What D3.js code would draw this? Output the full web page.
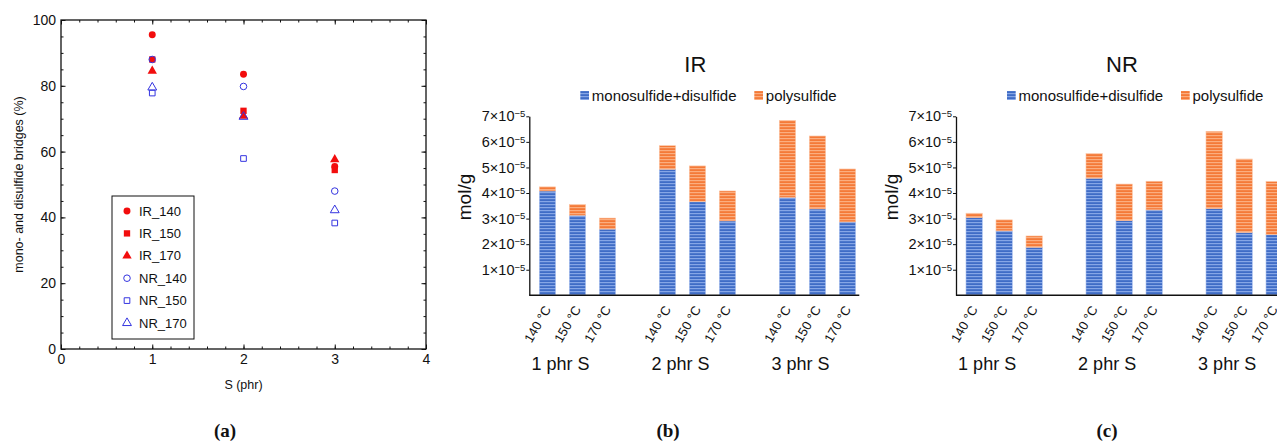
<!DOCTYPE html>
<html>
<head>
<meta charset="utf-8">
<script src="https://cdn.jsdelivr.net/npm/d3@7"></script>
<style>
  body { margin: 0; background: #fff; }
  svg { display: block; font-family: "Liberation Sans", Arial, sans-serif; }
</style>
</head>
<body>
<div id="chart"></div>
<script>
// panel (a): share of mono- and disulfide bridges (%)
const sulfur = [1, 2, 3];
const ir140 = [95.5, 83.5, 55.5];
const ir150 = [88.0, 72.4, 54.4];
const ir170 = [84.5, 70.8, 57.6];
const nr140 = [88.0, 79.8, 48.0];
const nr150 = [77.8, 57.9, 38.3];
const nr170 = [79.5, 70.6, 42.2];

// panels (b) and (c): crosslink densities, units of 1e-5 mol/g
const temps = ['140 °C', '150 °C', '170 °C'];
const doses = ['1 phr S', '2 phr S', '3 phr S'];
const irMonoDi = [4.08, 3.13, 2.59, 4.93, 3.66, 2.91, 3.83, 3.38, 2.87];
const irPoly = [0.16, 0.42, 0.43, 0.92, 1.40, 1.17, 3.01, 2.85, 2.07];
const nrMonoDi = [3.04, 2.52, 1.88, 4.58, 2.92, 3.34, 3.39, 2.46, 2.37];
const nrPoly = [0.17, 0.43, 0.44, 0.96, 1.43, 1.12, 3.02, 2.87, 2.08];
const yTicks = [1, 2, 3, 4, 5, 6, 7];
const panelLetters = ['(a)', '(b)', '(c)'];

const W = 1277, H = 441;
const RED = '#f20d0d', BLUE = '#3434e0';

const svg = d3.select('#chart').append('svg')
  .attr('width', W)
  .attr('height', H);

// stripe patterns for the bars
const defs = svg.append('defs');
function stripes(id, base, light) {
  const p = defs.append('pattern')
    .attr('id', id)
    .attr('patternUnits', 'userSpaceOnUse')
    .attr('width', 10)
    .attr('height', 3);
  p.append('rect').attr('width', 10).attr('height', 3).attr('fill', base);
  p.append('rect').attr('width', 10).attr('height', 1.2).attr('fill', light);
}
stripes('blueStripe', '#3f6cc6', '#86a6e6');
stripes('orangeStripe', '#f47a38', '#fbae80');

/**
 * panel (a)
 */
function drawScatter() {
  const x = d3.scaleLinear().domain([0, 4]).range([61, 426]);
  const y = d3.scaleLinear().domain([0, 100]).range([349, 20]);
  const g = svg.append('g').attr('class', 'panelA');

  // major + minor ticks, pointing inward on all four sides
  const sides = [
    { ax: d3.axisBottom(x), pos: `translate(0,${y(0)})`, major: [0, 1, 2, 3, 4], minor: d3.range(0, 4.01, 0.2), labels: true },
    { ax: d3.axisTop(x), pos: `translate(0,${y(100)})`, major: [0, 1, 2, 3, 4], minor: d3.range(0, 4.01, 0.2), labels: false },
    { ax: d3.axisLeft(y), pos: `translate(${x(0)},0)`, major: [0, 20, 40, 60, 80, 100], minor: d3.range(0, 101, 5), labels: true },
    { ax: d3.axisRight(y), pos: `translate(${x(4)},0)`, major: [0, 20, 40, 60, 80, 100], minor: d3.range(0, 101, 5), labels: false },
  ];
  sides.forEach((s) => {
    const minor = g.append('g').attr('transform', s.pos)
      .call(s.ax.tickValues(s.minor).tickSize(-2.5).tickSizeOuter(0).tickFormat(''));
    minor.select('.domain').remove();
    const major = g.append('g').attr('transform', s.pos)
      .call(s.ax.tickValues(s.major).tickSize(-4.5).tickSizeOuter(0).tickPadding(5)
        .tickFormat(s.labels ? d3.format('d') : ''));
    major.select('.domain').remove();
    major.selectAll('text').attr('font-size', 14).attr('fill', '#111')
      .attr('font-family', '"Liberation Sans", Arial, sans-serif');
  });
  g.selectAll('.tick line').attr('stroke', '#111').attr('stroke-width', 1);

  g.append('rect')
    .attr('x', x(0)).attr('y', y(100))
    .attr('width', x(4) - x(0)).attr('height', y(0) - y(100))
    .attr('fill', 'none').attr('stroke', '#111').attr('stroke-width', 1.3);

  g.append('text')
    .attr('transform', `translate(19,${(y(0) + y(100)) / 2}) rotate(-90)`)
    .attr('text-anchor', 'middle').attr('dy', '0.35em')
    .attr('font-size', 12.5).attr('fill', '#111')
    .text('mono- and disulfide bridges (%)');

  g.append('text')
    .attr('x', (x(0) + x(4)) / 2).attr('y', 389)
    .attr('text-anchor', 'middle').attr('font-size', 12.5).attr('fill', '#111')
    .text('S (phr)');

  const series = [
    { name: 'IR_140', values: ir140, shape: d3.symbolCircle, size: 38, filled: true },
    { name: 'IR_150', values: ir150, shape: d3.symbolSquare, size: 40, filled: true },
    { name: 'IR_170', values: ir170, shape: d3.symbolTriangle, size: 38, filled: true },
    { name: 'NR_140', values: nr140, shape: d3.symbolCircle, size: 34, filled: false },
    { name: 'NR_150', values: nr150, shape: d3.symbolSquare, size: 32, filled: false },
    { name: 'NR_170', values: nr170, shape: d3.symbolTriangle, size: 34, filled: false },
  ];

  const styleMark = (sel, s) => sel
    .attr('d', d3.symbol().type(s.shape).size(s.size))
    .attr('fill', s.filled ? RED : 'none')
    .attr('stroke', s.filled ? 'none' : BLUE)
    .attr('stroke-width', 1);

  series.forEach((s) => {
    g.selectAll(null)
      .data(s.values)
      .enter()
      .append('path')
      .attr('transform', (d, i) => `translate(${x(sulfur[i])},${y(d)})`)
      .call(styleMark, s);
  });

  // legend
  const leg = g.append('g').attr('class', 'legend');
  leg.append('rect')
    .attr('x', 112).attr('y', 196).attr('width', 82).attr('height', 143)
    .attr('fill', '#fff').attr('stroke', '#111').attr('stroke-width', 1);
  series.forEach((s, i) => {
    const ly = 211 + i * 22.4;
    leg.append('path')
      .attr('transform', `translate(127,${ly})`)
      .call(styleMark, s);
    leg.append('text')
      .attr('x', 139).attr('y', ly).attr('dy', '0.36em')
      .attr('font-size', 13).attr('fill', '#111')
      .text(s.name);
  });
}

/**
 * panels (b) and (c)
 */
function drawBars(axisX, title, monoDi, poly) {
  const g = svg.append('g');
  const rows = monoDi.map((m, i) => ({
    dose: doses[Math.floor(i / 3)],
    temp: temps[i % 3],
    mono: m,
    poly: poly[i],
  }));

  const x0 = d3.scaleBand().domain(doses).range([axisX, axisX + 360]);
  const x1 = d3.scaleBand().domain(temps).range([10, 86.3]).paddingInner(0.457);
  const y = d3.scaleLinear().domain([0, 7]).range([295.3, 116.3]);

  const stack = d3.stack().keys(['mono', 'poly'])(rows);
  const fills = { mono: 'url(#blueStripe)', poly: 'url(#orangeStripe)' };
  const edges = { mono: '#a9c0ee', poly: '#fcc4a2' };

  stack.forEach((layer) => {
    g.selectAll(null)
      .data(layer)
      .enter()
      .append('rect')
      .attr('x', (d) => x0(d.data.dose) + x1(d.data.temp))
      .attr('width', x1.bandwidth())
      .attr('y', (d) => y(d[1]))
      .attr('height', (d) => y(d[0]) - y(d[1]))
      .attr('fill', fills[layer.key])
      .attr('stroke', edges[layer.key])
      .attr('stroke-width', 0.6);
  });

  // y axis
  const yAxis = g.append('g')
    .attr('transform', `translate(${axisX},0)`)
    .call(d3.axisLeft(y).tickValues(yTicks).tickSize(3).tickSizeOuter(0).tickPadding(1));
  yAxis.select('.domain').attr('stroke', '#111').attr('stroke-width', 1.3);
  yAxis.selectAll('.tick line').attr('stroke', '#111');
  yAxis.selectAll('.tick text')
    .attr('font-size', 14.5).attr('fill', '#111')
    .attr('font-family', '"Liberation Sans", Arial, sans-serif')
    .each(function (d) {
      const t = d3.select(this);
      t.text(`${d}×10`);
      t.append('tspan').attr('dy', '-0.45em').attr('font-size', 9.5).text('−5');
    });

  // baseline
  g.append('line')
    .attr('x1', axisX).attr('x2', axisX + 330)
    .attr('y1', y(0)).attr('y2', y(0))
    .attr('stroke', '#111').attr('stroke-width', 1.5);

  // category labels
  g.selectAll(null)
    .data(rows)
    .enter()
    .append('text')
    .attr('transform', (d) => {
      const cx = x0(d.dose) + x1(d.temp) + x1.bandwidth() / 2 + 4;
      return `translate(${cx},309) rotate(-60)`;
    })
    .attr('text-anchor', 'end')
    .attr('font-size', 13).attr('fill', '#111')
    .text((d) => d.temp);

  g.selectAll(null)
    .data(doses)
    .enter()
    .append('text')
    .attr('x', (d) => x0(d) + (x1(temps[0]) + x1(temps[1]) + x1.bandwidth()) / 2 - 2)
    .attr('y', 370)
    .attr('text-anchor', 'middle')
    .attr('font-size', 18).attr('fill', '#111')
    .text((d) => d);

  g.append('text')
    .attr('transform', `translate(${axisX - 65},197) rotate(-90)`)
    .attr('text-anchor', 'middle').attr('dy', '0.35em')
    .attr('font-size', 19).attr('fill', '#111')
    .text('mol/g');

  g.append('text')
    .attr('x', axisX + 166).attr('y', 64)
    .attr('text-anchor', 'middle').attr('dy', '0.35em')
    .attr('font-size', 22).attr('fill', '#111')
    .text(title);

  // legend
  const legend = [
    { label: 'monosulfide+disulfide', fill: fills.mono, dx: 51 },
    { label: 'polysulfide', fill: fills.poly, dx: 225 },
  ];
  legend.forEach((l) => {
    g.append('rect')
      .attr('x', axisX + l.dx).attr('y', 91)
      .attr('width', 8.7).attr('height', 9)
      .attr('fill', l.fill);
    g.append('text')
      .attr('x', axisX + l.dx + 11.5).attr('y', 100.5)
      .attr('font-size', 15).attr('fill', '#111')
      .text(l.label);
  });
}

drawScatter();
drawBars(529.3, 'IR', irMonoDi, irPoly);
drawBars(956, 'NR', nrMonoDi, nrPoly);

// panel letters
svg.selectAll('.letter')
  .data(panelLetters)
  .enter()
  .append('text')
  .attr('class', 'letter')
  .attr('x', (d, i) => [225, 668, 1107][i])
  .attr('y', 437)
  .attr('text-anchor', 'middle')
  .attr('font-family', '"Liberation Serif", "DejaVu Serif", serif')
  .attr('font-weight', 'bold')
  .attr('font-size', 19)
  .attr('fill', '#111')
  .text((d) => d);
</script>
</body>
</html>
